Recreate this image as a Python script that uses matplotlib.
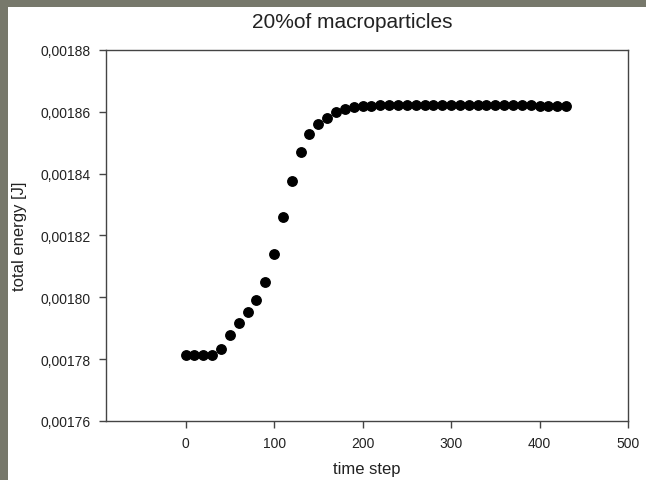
import matplotlib
matplotlib.use("Agg")
import matplotlib.pyplot as plt
from matplotlib.ticker import FuncFormatter
from matplotlib.patches import Rectangle

plt.rcParams['font.family'] = ['Liberation Sans', 'DejaVu Sans']

time_step = [0, 10, 20, 30, 40, 50, 60, 70, 80, 90, 100, 110, 120, 130, 140, 150,
             160, 170, 180, 190, 200, 210, 220, 230, 240, 250, 260, 270, 280, 290,
             300, 310, 320, 330, 340, 350, 360, 370, 380, 390, 400, 410, 420, 430]
total_energy = [0.0017814, 0.0017814, 0.0017814, 0.0017814, 0.0017833, 0.0017879,
                0.0017918, 0.0017953, 0.0017991, 0.0018050, 0.0018140, 0.0018261,
                0.0018377, 0.0018470, 0.0018528, 0.0018561, 0.0018580, 0.0018598,
                0.0018609, 0.0018615, 0.0018618, 0.0018620, 0.0018621, 0.0018622,
                0.0018622, 0.0018622, 0.0018622, 0.0018622, 0.0018622, 0.0018622,
                0.0018622, 0.0018622, 0.0018622, 0.0018622, 0.0018622, 0.0018622,
                0.0018622, 0.0018622, 0.0018622, 0.0018622, 0.0018620, 0.0018620,
                0.0018620, 0.0018620]
x_ticks = [0, 100, 200, 300, 400, 500]
y_ticks = [0.00176, 0.00178, 0.00180, 0.00182, 0.00184, 0.00186, 0.00188]

fig = plt.figure(figsize=(6.46, 4.81), dpi=100)
fig.patch.set_facecolor('white')

# grey textured frame at top and left
border = '#77786b'
fig.patches.append(Rectangle((0, 1 - 8 / 481), 1, 8 / 481, transform=fig.transFigure,
                             facecolor=border, edgecolor='none', zorder=0))
fig.patches.append(Rectangle((0, 0), 8 / 646, 1, transform=fig.transFigure,
                             facecolor=border, edgecolor='none', zorder=0))

ax = fig.add_axes([106 / 646, 1 - 422 / 481, (628 - 106) / 646, (422 - 51) / 481])
ax.plot(time_step, total_energy, 'o', color='black', markersize=6.8, linestyle='none')

ax.set_xlim(-90, 500)
ax.set_ylim(0.00176, 0.00188)
ax.set_xticks(x_ticks)
ax.set_yticks(y_ticks)
ax.yaxis.set_major_formatter(FuncFormatter(lambda v, p: f"{v:.5f}".replace('.', ',')))

txt = '#222222'
for s in ax.spines.values():
    s.set_color('#444444')
    s.set_linewidth(1.0)
ax.tick_params(direction='out', length=5, width=1, colors='#444444',
               labelcolor=txt, labelsize=10, pad=6)

ax.set_xlabel('time step', fontsize=12, color=txt, labelpad=8)
ax.set_ylabel('total energy [J]', fontsize=12, color=txt, labelpad=10)
fig.text(0.545, 1 - 23 / 481, '20%of macroparticles', fontsize=15, color=txt,
         ha='center', va='center')

fig.savefig('out.png', dpi=100, facecolor=fig.get_facecolor())
